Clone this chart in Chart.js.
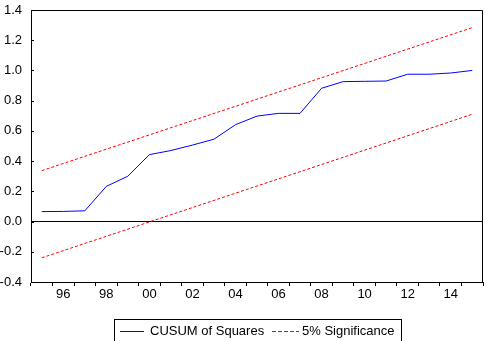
<!DOCTYPE html>
<html>
<head>
<meta charset="utf-8">
<script src="https://cdn.jsdelivr.net/npm/chart.js@4.4.1/dist/chart.umd.min.js"></script>
<style>
  html, body { margin: 0; padding: 0; background: #fff; }
  #wrap { width: 485px; height: 341px; }
</style>
</head>
<body>
<div id="wrap"><canvas id="myChart" width="485" height="341"></canvas></div>
<script>
// DATA
let years = [1995, 1996, 1997, 1998, 1999, 2000, 2001, 2002, 2003, 2004, 2005,
             2006, 2007, 2008, 2009, 2010, 2011, 2012, 2013, 2014, 2015];
let cusumSq = [0.066, 0.067, 0.071, 0.233, 0.300, 0.443, 0.470, 0.506, 0.545, 0.641, 0.698,
               0.716, 0.716, 0.882, 0.926, 0.928, 0.930, 0.975, 0.975, 0.983, 1.000];
// significance bands are straight lines, first and last value only
let upperEnds = [0.337, 1.283];
let lowerEnds = [-0.240, 0.710];
let yMin = -0.4, yMax = 1.4, yStep = 0.2;

let font = { family: 'Arial, "Liberation Sans", sans-serif', size: 13 };

function band(ends) {
  let d = years.map(() => null);
  d[0] = ends[0];
  d[d.length - 1] = ends[1];
  return d;
}

// FRAME, INNER TICKS AND BOXED LEGEND
const framePlugin = {
  id: 'frame',
  afterDraw(chart) {
    const c = chart.ctx;
    const a = chart.chartArea;
    const y = chart.scales.y;
    c.save();
    c.strokeStyle = '#000';
    c.lineWidth = 1;
    c.beginPath();
    c.moveTo(Math.round(a.left) + 0.5, Math.round(a.top) + 0.5);
    c.lineTo(Math.round(a.right) - 0.5, Math.round(a.top) + 0.5);
    c.lineTo(Math.round(a.right) - 0.5, Math.round(a.bottom) + 0.5);
    c.stroke();

    y.ticks.forEach(t => {
      let py = Math.round(y.getPixelForValue(t.value)) + 0.5;
      c.beginPath();
      c.moveTo(a.left, py);
      c.lineTo(a.left + 3, py);
      c.stroke();
    });

    // legend
    const ds = chart.data.datasets;
    c.strokeRect(114.5, 319.5, 287, 30);
    c.font = font.size + 'px ' + font.family;
    c.textBaseline = 'middle';
    c.fillStyle = '#000';

    c.strokeStyle = ds[0].borderColor;
    c.beginPath();
    c.moveTo(120, 331.5);
    c.lineTo(144, 331.5);
    c.stroke();
    c.fillText(ds[0].label, 150, 331);

    c.strokeStyle = ds[1].borderColor;
    c.setLineDash([4, 2]);
    c.beginPath();
    c.moveTo(272, 331.5);
    c.lineTo(299, 331.5);
    c.stroke();
    c.setLineDash([]);
    c.fillText(ds[1].label, 302, 331);
    c.restore();
  }
};

// keep the plot box where it belongs regardless of label overhang
const areaPlugin = {
  id: 'area',
  afterLayout(chart) {
    const a = chart.chartArea;
    const y = chart.scales.y;
    a.top = 10;
    a.height = a.bottom - a.top;
    y.top = 10;
    y.height = a.bottom - 10;
    y.configure();
    y._alignToPixels = false;
  }
};

let ctx = document.getElementById('myChart').getContext('2d');
window.bar = new Chart(ctx, {
  type: 'line',
  data: {
    labels: years,
    datasets: [{
      label: 'CUSUM of Squares',
      data: cusumSq,
      borderColor: '#0000FF',
      borderWidth: 1,
      pointRadius: 0,
      tension: 0
    }, {
      label: '5% Significance',
      data: band(upperEnds),
      borderColor: '#FF0000',
      borderWidth: 1,
      borderDash: [3, 2],
      pointRadius: 0,
      spanGaps: true
    }, {
      label: '5% Significance (lower)',
      data: band(lowerEnds),
      borderColor: '#FF0000',
      borderWidth: 1,
      borderDash: [3, 2],
      pointRadius: 0,
      spanGaps: true
    }]
  },
  options: {
    responsive: false,
    animation: false,
    events: [],
    layout: { padding: { top: 10, right: 2, bottom: 0, left: 0 } },
    plugins: {
      legend: { display: false },
      tooltip: { enabled: false }
    },
    scales: {
      x: {
        type: 'category',
        offset: true,
        grid: { offset: true, drawOnChartArea: false, drawTicks: true, tickLength: 4, color: '#000' },
        border: { color: '#000' },
        ticks: {
          autoSkip: false,
          maxRotation: 0,
          padding: 1,
          color: '#000',
          font: font,
          callback: (v, i) => years[i] % 2 === 0 ? String(years[i]).slice(2) : ''
        },
        afterFit: s => { s.height = 59; }
      },
      y: {
        min: yMin,
        max: yMax,
        grid: {
          drawTicks: false,
          color: c => (c.tick && Math.abs(c.tick.value) < 1e-9) ? '#000' : 'rgba(0,0,0,0)'
        },
        border: { color: '#000' },
        ticks: {
          stepSize: yStep,
          autoSkip: false,
          padding: 9,
          color: '#000',
          font: font,
          callback: v => Math.abs(v) < 1e-9 ? '0.0' : v.toFixed(1)
        },
        afterFit: s => { s.width = 31; }
      }
    }
  },
  plugins: [framePlugin, areaPlugin]
});
</script>
</body>
</html>
